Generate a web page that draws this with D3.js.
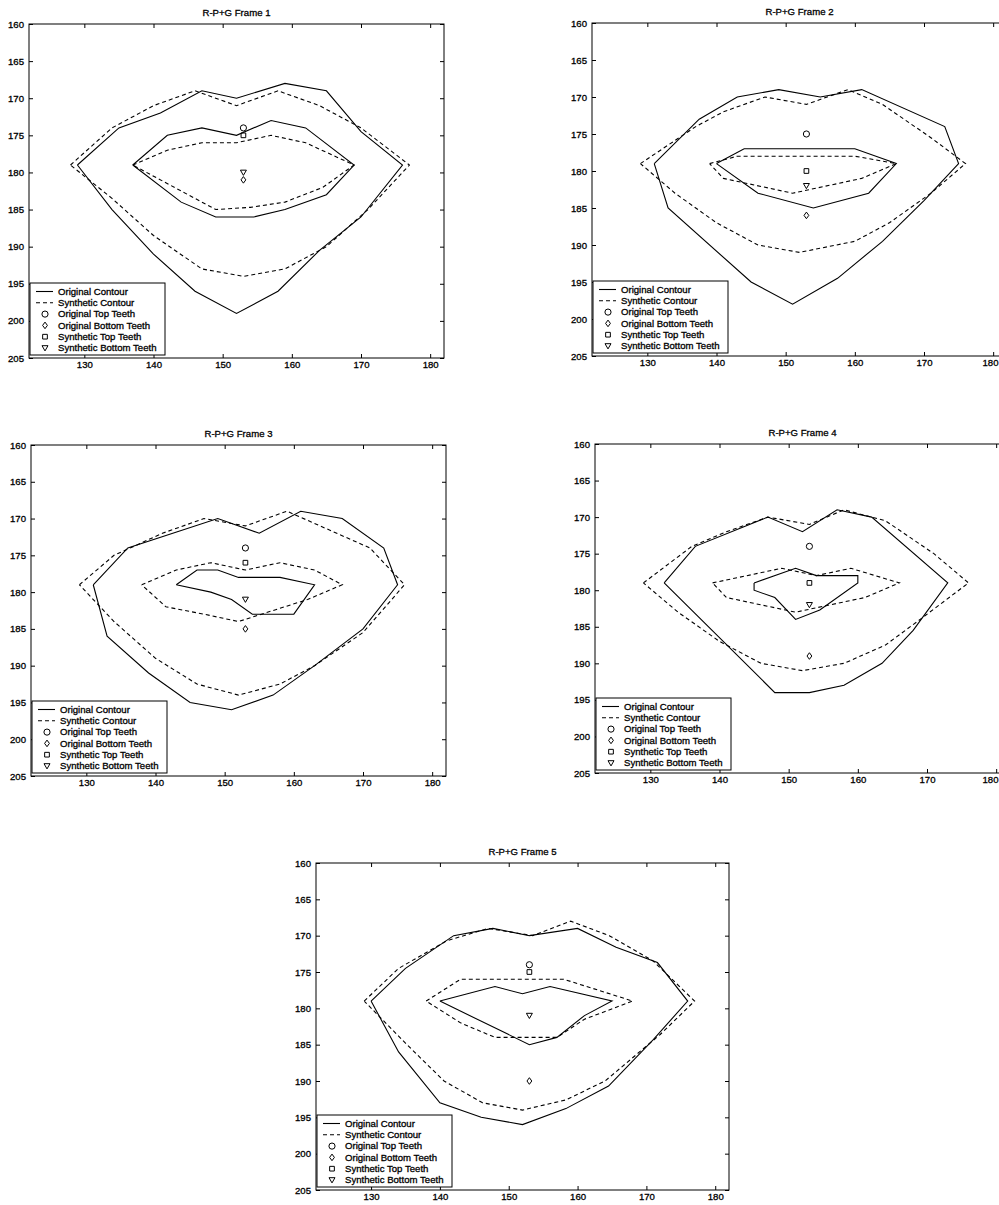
<!DOCTYPE html>
<html>
<head>
<meta charset="utf-8">
<script src="https://cdn.jsdelivr.net/npm/d3@7"></script>
<style>
  body { margin: 0; background: #fff; }
  svg { display: block; }
  text { font-family: "Liberation Sans", Arial, Helvetica, sans-serif; fill: #000; stroke: #000; stroke-width: 0.3px; }
</style>
</head>
<body>
<svg id="chart" width="999" height="1205"></svg>
<script>
// ---------------- DATA ----------------
const xTicks = [130, 140, 150, 160, 170, 180];
const yTicks = [160, 165, 170, 175, 180, 185, 190, 195, 200, 205];
const xDomain = [122, 182];
const yDomain = [160, 205];
const frameTitles = ["R-P+G Frame 1", "R-P+G Frame 2", "R-P+G Frame 3", "R-P+G Frame 4", "R-P+G Frame 5"];
const legendLabels = ["Original Contour", "Synthetic Contour", "Original Top Teeth",
                      "Original Bottom Teeth", "Synthetic Top Teeth", "Synthetic Bottom Teeth"];

// Frame 1
const origOuter1 = [[129,179],[135,174],[141,172],[147,169],[152,170],[159,168],[165,169],[170,174.5],[176,179],[170,186],[164,190.5],[158,196],[152,199],[146,196],[140,191],[134,185],[129,179]];
const synthOuter1 = [[128,179],[134,174],[140,171],[146,169],[152,171],[158,169],[164,171],[170,174],[177,179],[171,185],[165,190],[159,193],[153,194],[147,193],[140,188.5],[134,183.5],[128,179]];
const origInner1 = [[137,179],[142,175],[147,174],[152,175],[157,173],[162,174],[169,179],[165,183],[159,185],[154.5,186],[149,186],[144,184],[137,179]];
const synthInner1 = [[137,179],[142,177],[147,176],[152,176],[157,175],[162,176],[169,179],[164.5,182],[159,184],[154,184.7],[149,185],[143,182],[137,179]];
// Frame 2
const origOuter2 = [[131,179],[137.5,173],[143,170],[149,169],[155,170],[161,169],[173,174],[175,179],[170,184],[164,189.5],[157.5,194.5],[151,198],[145,195],[133,185],[131,179]];
const synthOuter2 = [[129,179],[137,174],[141,172],[147,170],[153,171],[159,169],[164,171],[171,175.5],[176,179],[171,183],[165,187],[160,189.5],[152,191],[146,190],[140,187],[134,183],[129,179]];
const origInner2 = [[140,179],[144,177],[160,177],[166,179],[162,183],[154,185],[146,183],[140,179]];
const synthInner2 = [[139,179],[143,178],[160,178],[166,179],[161,181],[151,183],[141,181],[139,179]];
// Frame 3
const origOuter3 = [[131,179],[136,174],[149,170],[155,172],[161,169],[167,170],[173,174],[175,179],[170,185],[163,190],[157,194],[151,196],[145,195],[139,191],[133,186],[131,179]];
const synthOuter3 = [[129,179],[134,175],[141,172],[147,170],[153,171],[159,169],[165,171.5],[171,174],[176,179],[170,185.5],[163,190],[158,192.5],[152,194],[146,192.5],[140,189],[134,184],[129,179]];
const origInner3 = [[143,179],[146,177],[149,177],[152,178],[158,178],[163,179],[160,183],[154,183],[151,181],[148,180],[143,179]];
const synthInner3 = [[138,179],[143,177],[148,176],[153,177],[158,176],[163,177],[167,179],[162,181],[157,182.5],[152,184],[147,183],[141.5,182],[138,179]];
// Frame 4
const origOuter4 = [[132,179],[136.5,174],[147,170],[152,172],[157,169],[162,170],[173,179],[168,185.5],[163.5,190],[158,193],[153,194],[148,194],[132,179]];
const synthOuter4 = [[129,179],[136,174],[141,172],[147,170],[153,171],[158,169],[164,170.5],[171,175],[176,179],[169,184],[164,187.5],[158,190],[152,191],[146,190],[140,187],[134,183],[129,179]];
const origInner4 = [[145,179],[151,177],[154,178],[160,178],[160,179],[154.5,182.7],[151,184],[148,181],[145,180],[145,179]];
const synthInner4 = [[139,179],[149,177],[154,178],[159,177],[166,179],[161,181],[151,183],[141,181],[139,179]];
// Frame 5
const origOuter5 = [[130,179],[135,174.5],[142,170],[147.7,169],[153,170],[160,169],[165.6,171.6],[171.6,173.7],[176,179],[171,184.3],[164.5,190.7],[158.3,193.8],[152,196],[146,195],[140,193],[134,186],[130,179]];
const synthOuter5 = [[129,179],[134,174.5],[141,170.7],[147,169],[153.5,170],[159,168],[164.6,170],[171,173.5],[177,179],[172,183.6],[164,190],[158.3,192.6],[152,194],[146.2,193],[140.6,190],[135,184.8],[129,179]];
const origInner5 = [[140,179],[148,177],[152,178],[156,177],[165,179],[161,181],[157,184],[153,185],[140,179]];
const synthInner5 = [[138,179],[143,176],[158,176],[168,179],[161,181.5],[157,184],[148,184],[143,182],[138,179]];

// Teeth markers (one per frame)
const teethX = [153, 153, 153, 153, 153];
const origTopTeethY = [174, 175, 174, 174, 174];
const origBottomTeethY = [181, 186, 185, 189, 190];
const synthTopTeethY = [175, 180, 176, 179, 175];
const synthBottomTeethY = [180, 182, 181, 182, 181];

const origOuter = [origOuter1, origOuter2, origOuter3, origOuter4, origOuter5];
const synthOuter = [synthOuter1, synthOuter2, synthOuter3, synthOuter4, synthOuter5];
const origInner = [origInner1, origInner2, origInner3, origInner4, origInner5];
const synthInner = [synthInner1, synthInner2, synthInner3, synthInner4, synthInner5];

// ---------------- LAYOUT ----------------
const W = 999;
const layout = [
  { left: 29,  top: 24,  width: 415, height: 334 },
  { left: 592, top: 23,  width: 415, height: 333 },
  { left: 31,  top: 445, width: 415, height: 331 },
  { left: 595, top: 444, width: 415, height: 329 },
  { left: 316, top: 863, width: 413, height: 327 }
];

const svg = d3.select("#chart");
const DASH = "4,3";
const FS = 9.6;

const markerDefs = [
  { type: "line", dash: null },
  { type: "line", dash: DASH },
  { type: "circle" },
  { type: "diamond" },
  { type: "square" },
  { type: "triangle" }
];

function markerPath(type) {
  if (type === "circle") return d3.symbol(d3.symbolCircle, 30)();
  if (type === "square") return d3.symbol(d3.symbolSquare, 22)();
  if (type === "diamond") return "M0,-3.3L2.4,0L0,3.3L-2.4,0Z";
  if (type === "triangle") return "M-3,-2.3L3,-2.3L0,2.9Z";
}

layout.forEach((L, i) => {
  const g = svg.append("g").attr("transform", `translate(${L.left},${L.top})`);
  const x = d3.scaleLinear().domain(xDomain).range([0, L.width]);
  const y = d3.scaleLinear().domain(yDomain).range([0, L.height]);

  const ax = (sel) => { sel.select(".domain").remove(); sel.selectAll("line").attr("stroke", "#000"); };

  // bottom axis with labels (keep labels inside the page)
  const bx = g.append("g").attr("transform", `translate(0,${L.height})`)
    .call(d3.axisBottom(x).tickValues(xTicks).tickSizeInner(-4).tickSizeOuter(0).tickPadding(3))
    .call(ax);
  bx.selectAll("text").attr("font-size", FS).attr("font-family", null)
    .each(function(d) {
      const px = L.left + x(d);
      if (px + 9 > W) {
        d3.select(this).attr("text-anchor", "end").attr("x", W - 1 - px);
      }
    });
  g.append("g")
    .call(d3.axisTop(x).tickValues(xTicks).tickSizeInner(-4).tickSizeOuter(0).tickFormat(""))
    .call(ax);
  g.append("g")
    .call(d3.axisLeft(y).tickValues(yTicks).tickSizeInner(-4).tickSizeOuter(0).tickPadding(5))
    .call(ax).selectAll("text").attr("font-size", FS).attr("font-family", null);
  g.append("g").attr("transform", `translate(${L.width},0)`)
    .call(d3.axisRight(y).tickValues(yTicks).tickSizeInner(-4).tickSizeOuter(0).tickFormat(""))
    .call(ax);

  g.append("rect").attr("x", 0).attr("y", 0).attr("width", L.width).attr("height", L.height)
    .attr("fill", "none").attr("stroke", "#000").attr("stroke-width", 1);

  // title (centred over the full axes box, kept in page)
  let tx = L.left + L.width / 2;
  svg.append("text").attr("x", tx).attr("y", L.top - 8)
    .attr("text-anchor", "middle").attr("font-size", FS).text(frameTitles[i]);

  const line = d3.line().x(d => x(d[0])).y(d => y(d[1]));
  const drawLine = (data, dash) => g.append("path").attr("d", line(data))
    .attr("fill", "none").attr("stroke", "#000").attr("stroke-width", 1.1)
    .attr("stroke-dasharray", dash);

  drawLine(origOuter[i], null);
  drawLine(origInner[i], null);
  drawLine(synthOuter[i], DASH);
  drawLine(synthInner[i], DASH);

  const pts = [
    ["circle", origTopTeethY[i]],
    ["diamond", origBottomTeethY[i]],
    ["square", synthTopTeethY[i]],
    ["triangle", synthBottomTeethY[i]]
  ];
  pts.forEach(([t, yv]) => {
    g.append("path").attr("d", markerPath(t))
      .attr("transform", `translate(${x(teethX[i])},${y(yv)})`)
      .attr("fill", "none").attr("stroke", "#000").attr("stroke-width", 1);
  });

  // legend
  const lh = 72, lw = 135;
  const lg = g.append("g").attr("transform", `translate(1,${L.height - 3 - lh})`);
  lg.append("rect").attr("width", lw).attr("height", lh)
    .attr("fill", "#fff").attr("stroke", "#000").attr("stroke-width", 1);
  legendLabels.forEach((lab, k) => {
    const yy = 8.5 + k * 11.3;
    const m = markerDefs[k];
    if (m.type === "line") {
      lg.append("line").attr("x1", 6).attr("x2", 23).attr("y1", yy).attr("y2", yy)
        .attr("stroke", "#000").attr("stroke-width", 1.1).attr("stroke-dasharray", m.dash);
    } else {
      lg.append("path").attr("d", markerPath(m.type))
        .attr("transform", `translate(15,${yy})`)
        .attr("fill", "none").attr("stroke", "#000").attr("stroke-width", 1);
    }
    lg.append("text").attr("x", 28).attr("y", yy).attr("dy", "0.35em")
      .attr("font-size", FS).text(lab);
  });
});
</script>
</body>
</html>
